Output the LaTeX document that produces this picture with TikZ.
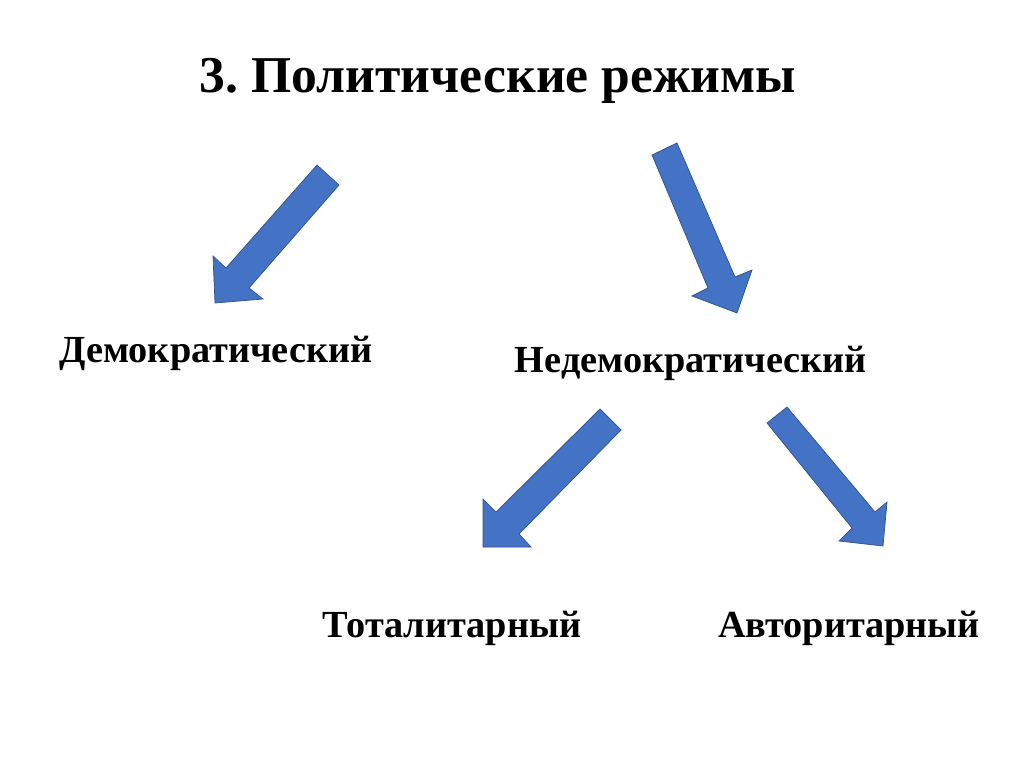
\documentclass[tikz,border=0pt]{standalone}
\usepackage{fontspec}
\setmainfont{Liberation Serif}
\frenchspacing
\definecolor{arrowblue}{HTML}{4472C4}
\definecolor{arrowline}{HTML}{2F528F}
\tikzset{
  blockarrow/.style={fill=arrowblue,draw=arrowline,line width=0.4pt,line join=miter},
  label/.style={font=\bfseries\fontsize{21.8}{26}\selectfont,anchor=base,inner sep=0pt}
}
\begin{document}
\begin{tikzpicture}[x=0.02cm,y=-0.02cm]
\useasboundingbox[fill=white] (0,0) rectangle (1024,767);
\node[font=\bfseries\fontsize{29.4}{34}\selectfont,anchor=base,inner sep=0pt] (title) at (498,92) {3. Политические режимы};
% arrows
\draw[blockarrow] (317,165) -- (339,185) -- (249,288) -- (263,299) -- (215,303) -- (213,256) -- (226,268) -- cycle;
\draw[blockarrow] (652,155) -- (677,143) -- (735,277) -- (752,270) -- (737,313) -- (692,296) -- (708,288) -- cycle;
\draw[blockarrow] (600,409) -- (621,430) -- (519,534) -- (531,547) -- (483,547) -- (483,499) -- (496,512) -- cycle;
\draw[blockarrow] (767,423) -- (787,407) -- (875,512) -- (887,502) -- (883,546) -- (839,541) -- (852,528) -- cycle;
% labels
\node[label] (dem) at (216,362) {Демократический};
\node[label] (nondem) at (691,372) {Недемократический};
\node[label] (total) at (452,637) {Тоталитарный};
\node[label] (auth) at (849,637) {Авторитарный};
\end{tikzpicture}
\end{document}
